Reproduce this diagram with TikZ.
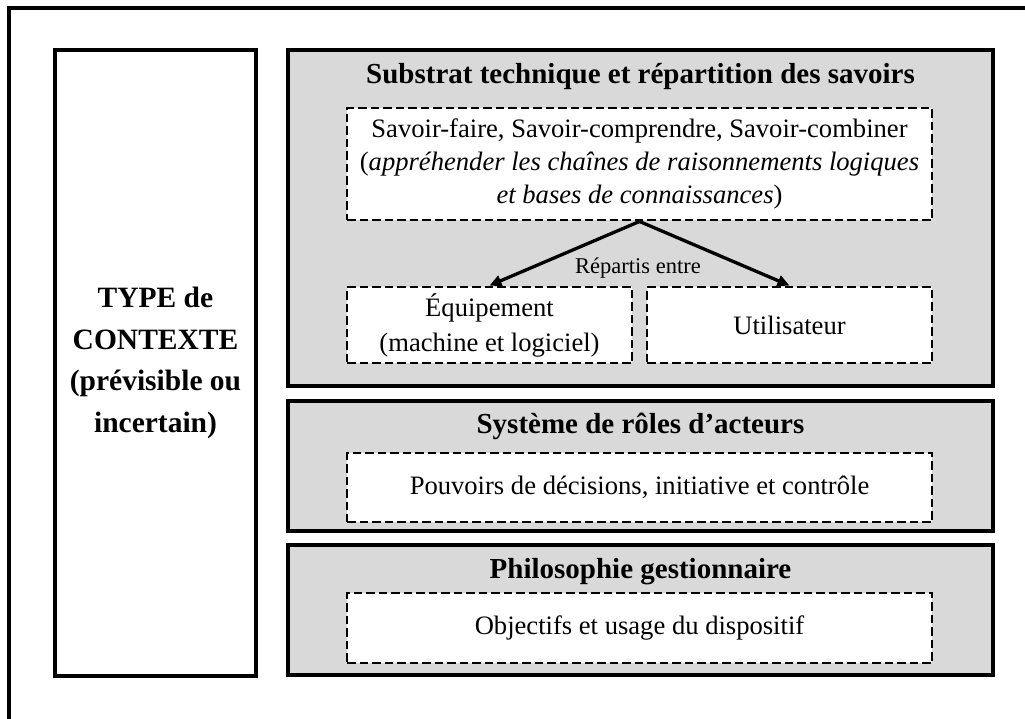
\documentclass[tikz,border=0pt]{standalone}
\usepackage{fontspec}
\setmainfont{Liberation Serif}
\usetikzlibrary{arrows.meta}
\definecolor{boxgray}{HTML}{D9D9D9}
\begin{document}
\begin{tikzpicture}[x=1pt,y=-1pt,
  graybox/.style={draw, line width=3.4pt, fill=boxgray, rectangle, inner sep=0pt, minimum width=705pt},
  dashbox/.style={draw, line width=2.9pt, dash pattern=on 8.5pt off 4pt, fill=white, rectangle, inner sep=0pt, align=center, font=\fontsize{26.6}{33}\selectfont},
  titletext/.style={font=\bfseries\fontsize{29}{34}\selectfont, anchor=base, inner sep=0pt},
  arr/.style={line width=3.3pt, -{Triangle[length=12pt,width=11pt]}}]
\useasboundingbox (0,0) rectangle (1025,718);
\begin{scope}
\clip (0,0) rectangle (1025,718);
\draw[line width=4.5pt] (9,740) |- (1050,8);
\end{scope}
% left box
\node[draw, line width=4pt, rectangle, minimum width=201pt, minimum height=626pt, inner sep=0pt, align=center, font=\bfseries\fontsize{29.5}{41.5}\selectfont] (ctx) at (155.5,363) {TYPE de\\CONTEXTE\\(prévisible ou\\incertain)};
% gray boxes
\node[graybox, minimum height=336pt] (b1) at (640.5,218) {};
\node[graybox, minimum height=130pt] (b2) at (640.5,466) {};
\node[graybox, minimum height=130pt] (b3) at (640.5,610) {};
% titles
\node[titletext] (t1) at (640.5,83) {Substrat technique et répartition des savoirs};
\node[titletext] (t2) at (640.5,433) {Système de rôles d’acteurs};
\node[titletext] (t3) at (640.5,578) {Philosophie gestionnaire};
% dashed boxes
\node[dashbox, minimum width=585pt, minimum height=112pt] (d1) at (639.5,164) {Savoir-faire, Savoir-comprendre, Savoir-combiner\\(\textit{appréhender les chaînes de raisonnements logiques}\\\textit{et bases de connaissances})};
\node[dashbox, minimum width=285pt, minimum height=76pt, font=\fontsize{26.6}{35}\selectfont] (eq) at (489.5,325) {Équipement\\(machine et logiciel)};
\node[dashbox, minimum width=285pt, minimum height=76pt] (ut) at (789.5,325) {Utilisateur};
\node[dashbox, minimum width=585pt, minimum height=69pt] (d2) at (639.5,487.5) {Pouvoirs de décisions, initiative et contrôle};
\node[dashbox, minimum width=585pt, minimum height=70pt] (d3) at (639.5,628) {Objectifs et usage du dispositif};
% arrows
\draw[arr] (d1.south) -- (eq.north);
\draw[arr] (d1.south) -- (ut.north);
\node[font=\fontsize{22.5}{27}\selectfont, anchor=base, inner sep=0pt] (rep) at (638,273) {Répartis entre};
\end{tikzpicture}
\end{document}
